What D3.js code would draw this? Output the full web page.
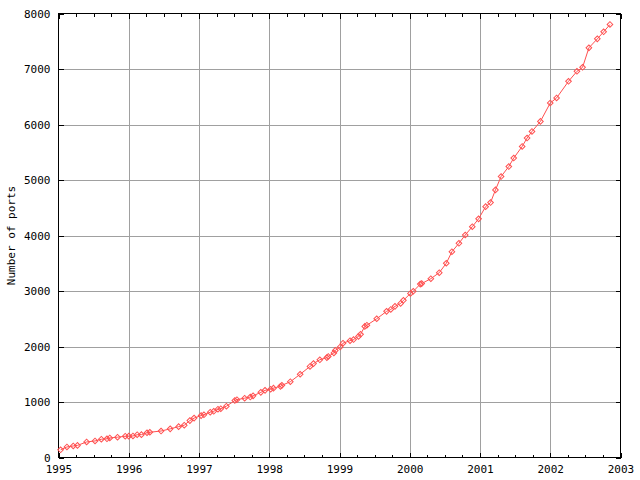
<!DOCTYPE html>
<html>
<head>
<meta charset="utf-8">
<script src="https://cdn.jsdelivr.net/npm/d3@7"></script>
<style>
  body { margin: 0; background: #fff; }
  text { font-family: "DejaVu Sans Mono", monospace; font-size: 11px; fill: #000; }
</style>
</head>
<body>
<svg id="chart"></svg>
<script>
const width = 640;
const height = 480;
const margin = {top: 13.5, right: 19.5, bottom: 22.5, left: 58.5};

// dates (decimal years) and number of ports
const dates = [
  1995.03, 1995.12, 1995.21, 1995.27, 1995.40, 1995.52, 1995.61, 1995.69,
  1995.73, 1995.84, 1995.95, 1996.00, 1996.06, 1996.12, 1996.18, 1996.26,
  1996.30, 1996.46, 1996.59, 1996.71, 1996.79, 1996.87, 1996.93, 1997.03,
  1997.07, 1997.16, 1997.21, 1997.27, 1997.31, 1997.39, 1997.51, 1997.54,
  1997.65, 1997.73, 1997.77, 1997.88, 1997.94, 1998.02, 1998.06, 1998.16,
  1998.18, 1998.30, 1998.44, 1998.58, 1998.63, 1998.72, 1998.82, 1998.84,
  1998.92, 1998.94, 1999.01, 1999.05, 1999.15, 1999.20, 1999.27, 1999.30,
  1999.36, 1999.39, 1999.53, 1999.67, 1999.73, 1999.79, 1999.87, 1999.91,
  2000.01, 2000.05, 2000.15, 2000.17, 2000.30, 2000.42, 2000.52, 2000.60,
  2000.70, 2000.79, 2000.89, 2000.98, 2001.08, 2001.15, 2001.22, 2001.30,
  2001.41, 2001.48, 2001.60, 2001.67, 2001.74, 2001.86, 2002.00, 2002.09,
  2002.26, 2002.38, 2002.46, 2002.55, 2002.67, 2002.76, 2002.85
];
const ports = [
  139, 190, 208, 218, 280, 298, 329, 337,
  352, 366, 383, 385, 388, 410, 412, 446,
  455, 477, 516, 556, 582, 665, 710, 755,
  770, 816, 833, 870, 879, 925, 1026, 1042,
  1069, 1089, 1111, 1174, 1210, 1230, 1250, 1282,
  1300, 1365, 1500, 1640, 1692, 1761, 1800, 1820,
  1884, 1930, 1992, 2060, 2105, 2126, 2182, 2220,
  2362, 2384, 2500, 2633, 2668, 2723, 2776, 2832,
  2956, 2994, 3124, 3133, 3222, 3330, 3500, 3708,
  3859, 4009, 4159, 4300, 4520, 4593, 4822, 5062,
  5243, 5395, 5604, 5756, 5875, 6056, 6388, 6478,
  6778, 6958, 7030, 7381, 7543, 7670, 7802
];

const xTicks = [1995, 1996, 1997, 1998, 1999, 2000, 2001, 2002, 2003];
const yTicks = [0, 1000, 2000, 3000, 4000, 5000, 6000, 7000, 8000];
const yLabel = "Number of ports";

const data = dates.map((d, i) => ({date: d, value: ports[i]}));

const svg = d3.select("#chart")
    .attr("width", width)
    .attr("height", height);

const x = d3.scaleLinear()
    .domain([1995, 2003])
    .range([margin.left, width - margin.right]);

const y = d3.scaleLinear()
    .domain([0, 8000])
    .range([height - margin.bottom, margin.top]);

const gridColor = "#a0a0a0";
const red = "#ff5050";

// grid lines
svg.append("g")
    .selectAll("line")
    .data(xTicks.slice(1, -1))
    .join("line")
    .attr("x1", d => Math.round(x(d)) + 0.5)
    .attr("x2", d => Math.round(x(d)) + 0.5)
    .attr("y1", y(0))
    .attr("y2", y(8000))
    .attr("stroke", gridColor)
    .attr("shape-rendering", "crispEdges");

svg.append("g")
    .selectAll("line")
    .data(yTicks.slice(1, -1))
    .join("line")
    .attr("x1", x(1995))
    .attr("x2", x(2003))
    .attr("y1", d => Math.round(y(d)) + 0.5)
    .attr("y2", d => Math.round(y(d)) + 0.5)
    .attr("stroke", gridColor)
    .attr("shape-rendering", "crispEdges");

// bottom axis (ticks point inward)
const bottomAxis = svg.append("g")
    .attr("transform", `translate(0, ${y(0)})`)
    .call(d3.axisBottom(x).tickValues(xTicks).tickFormat(d3.format("d"))
        .tickSize(-5).tickPadding(8));

// top axis
const topAxis = svg.append("g")
    .attr("transform", `translate(0, ${y(8000)})`)
    .call(d3.axisTop(x).tickValues(xTicks).tickFormat("").tickSize(-5));

// left axis
const leftAxis = svg.append("g")
    .attr("transform", `translate(${x(1995)}, 0)`)
    .call(d3.axisLeft(y).tickValues(yTicks).tickFormat(d3.format("d"))
        .tickSize(-5).tickPadding(8));

// right axis
const rightAxis = svg.append("g")
    .attr("transform", `translate(${x(2003)}, 0)`)
    .call(d3.axisRight(y).tickValues(yTicks).tickFormat("").tickSize(-5));

[bottomAxis, topAxis, leftAxis, rightAxis].forEach(g => {
    g.select(".domain").remove();
    g.selectAll("line").attr("stroke", "#000").attr("shape-rendering", "crispEdges");
    g.selectAll("text")
        .attr("fill", "#000")
        .style("font-family", "'DejaVu Sans Mono', monospace")
        .style("font-size", "11px");
});

// minor x ticks at quarter years, top and bottom
const minorTicks = d3.range(1995, 2003, 0.25).filter(d => d % 1 !== 0);
svg.append("g")
    .selectAll("line")
    .data(minorTicks)
    .join("line")
    .attr("x1", d => Math.round(x(d)) + 0.5)
    .attr("x2", d => Math.round(x(d)) + 0.5)
    .attr("y1", y(0))
    .attr("y2", y(0) - 3)
    .attr("stroke", "#000")
    .attr("shape-rendering", "crispEdges");

svg.append("g")
    .selectAll("line")
    .data(minorTicks)
    .join("line")
    .attr("x1", d => Math.round(x(d)) + 0.5)
    .attr("x2", d => Math.round(x(d)) + 0.5)
    .attr("y1", y(8000))
    .attr("y2", y(8000) + 3)
    .attr("stroke", "#000")
    .attr("shape-rendering", "crispEdges");

// border
svg.append("rect")
    .attr("x", x(1995))
    .attr("y", y(8000))
    .attr("width", x(2003) - x(1995))
    .attr("height", y(0) - y(8000))
    .attr("fill", "none")
    .attr("stroke", "#000")
    .attr("shape-rendering", "crispEdges");

// y axis label
svg.append("text")
    .attr("transform", `translate(15, ${(y(0) + y(8000)) / 2}) rotate(-90)`)
    .attr("text-anchor", "middle")
    .text(yLabel);

// connecting line
const line = d3.line()
    .x(d => x(d.date))
    .y(d => y(d.value));

svg.append("path")
    .datum(data)
    .attr("d", line)
    .attr("fill", "none")
    .attr("stroke", red)
    .attr("stroke-width", 1);

// diamond markers
const diamond = d3.symbol().type(d3.symbolSquare).size(16);

svg.append("g")
    .selectAll("path")
    .data(data)
    .join("path")
    .attr("d", diamond)
    .attr("transform", d => `translate(${x(d.date)}, ${y(d.value)}) rotate(45)`)
    .attr("fill", "none")
    .attr("stroke", red)
    .attr("stroke-width", 1);
</script>
</body>
</html>
